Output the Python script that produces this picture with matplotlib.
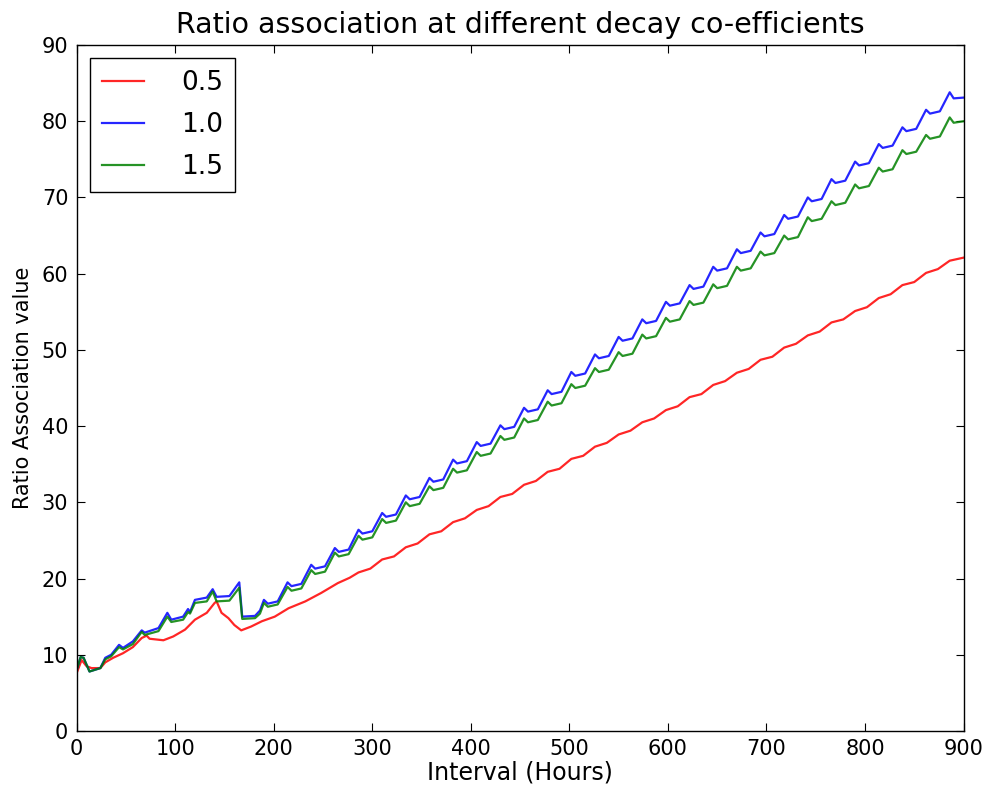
import numpy as np
import matplotlib
matplotlib.use('Agg')
import matplotlib.pyplot as plt

# values (hours vs ratio association value)

# blue / green share the same sample hours
hours_bg = [0, 4, 7, 13, 24, 29, 35, 43, 47, 57, 66, 69, 83, 92, 96, 108, 113, 115, 120, 132,
            138, 142, 155, 165, 168, 181, 186,
            190, 194, 204, 214, 218, 228, 238, 242, 252, 262, 266, 276,
            286, 290, 300, 310, 314, 324, 334, 338, 348, 358, 362, 372,
            382, 386, 396, 406, 410, 420, 430, 434, 444, 454, 458, 468,
            478, 482, 492, 502, 506, 516, 526, 530, 540, 550, 554, 564,
            574, 578, 588, 598, 602, 612, 622, 626, 636, 646, 650, 660,
            670, 674, 684, 694, 698, 708, 718, 722, 732, 742, 746, 756,
            766, 770, 780, 790, 794, 804, 814, 818, 828, 838, 842, 852,
            862, 866, 876, 886, 890, 900]

decay_10 = [8.0, 9.7, 9.6, 7.8, 8.25, 9.6, 10.0, 11.3, 10.9, 11.75, 13.2, 12.9, 13.5, 15.5, 14.6, 15.0, 16.0, 15.6, 17.2, 17.5,
            18.6, 17.6, 17.7, 19.5, 15.0, 15.1, 15.8,
            17.2, 16.7, 17.0, 19.5, 19.0, 19.3, 21.8, 21.3, 21.6, 24.0, 23.5, 23.8,
            26.4, 25.9, 26.2, 28.6, 28.1, 28.4, 30.9, 30.4, 30.7, 33.2, 32.7, 33.0,
            35.6, 35.1, 35.4, 37.9, 37.4, 37.7, 40.1, 39.6, 39.9, 42.4, 41.9, 42.2,
            44.7, 44.2, 44.5, 47.1, 46.6, 46.9, 49.4, 48.9, 49.2, 51.7, 51.2, 51.5,
            54.0, 53.5, 53.8, 56.3, 55.8, 56.1, 58.5, 58.0, 58.3, 60.9, 60.4, 60.7,
            63.2, 62.7, 63.0, 65.4, 64.9, 65.2, 67.7, 67.2, 67.5, 70.0, 69.5, 69.8,
            72.4, 71.9, 72.2, 74.7, 74.2, 74.5, 77.0, 76.5, 76.8, 79.2, 78.7, 79.0,
            81.5, 81.0, 81.3, 83.8, 83.0, 83.1]

decay_15 = [8.0, 9.7, 9.6, 7.8, 8.25, 9.4, 9.8, 11.0, 10.7, 11.4, 13.0, 12.6, 13.1, 15.0, 14.3, 14.6, 15.6, 15.4, 16.8, 17.0,
            18.3, 17.0, 17.1, 18.8, 14.7, 14.8, 15.4,
            16.8, 16.3, 16.6, 18.9, 18.4, 18.7, 21.1, 20.6, 20.9, 23.4, 22.9, 23.2,
            25.6, 25.1, 25.4, 27.8, 27.3, 27.6, 30.0, 29.5, 29.8, 32.1, 31.6, 31.9,
            34.4, 33.9, 34.2, 36.6, 36.1, 36.4, 38.7, 38.2, 38.5, 41.0, 40.5, 40.8,
            43.2, 42.7, 43.0, 45.5, 45.0, 45.3, 47.6, 47.1, 47.4, 49.7, 49.2, 49.5,
            52.0, 51.5, 51.8, 54.2, 53.7, 54.0, 56.4, 55.9, 56.2, 58.6, 58.1, 58.4,
            60.9, 60.4, 60.7, 62.9, 62.4, 62.7, 65.0, 64.5, 64.8, 67.4, 66.9, 67.2,
            69.5, 69.0, 69.3, 71.7, 71.2, 71.5, 73.9, 73.4, 73.7, 76.2, 75.7, 76.0,
            78.2, 77.7, 78.0, 80.5, 79.8, 80.0]

hours_r = [0, 5, 10, 15, 24, 29, 37, 47, 57, 66, 71, 74, 88, 98, 110, 120, 132, 140, 142, 147,
           154, 160, 167, 177, 188, 201, 215, 232, 248, 265, 277,
           286, 298, 310, 322, 334, 346, 358, 370, 382, 394, 406, 418, 430, 442,
           454, 466, 478, 490, 502, 514, 526, 538, 550, 562, 574, 586, 598, 610,
           622, 634, 646, 658, 670, 682, 694, 706, 718, 730, 742, 754, 766, 778,
           790, 802, 814, 826, 838, 850, 862, 874, 886, 900]

decay_05 = [7.6, 9.3, 8.5, 8.25, 8.25, 9.0, 9.6, 10.2, 11.0, 12.2, 12.5, 12.1, 11.9, 12.4, 13.3, 14.6, 15.5, 16.8, 17.0, 15.5,
            14.8, 13.9, 13.2, 13.7, 14.4, 15.0, 16.1, 17.0, 18.1, 19.4, 20.1,
            20.8, 21.3, 22.5, 22.9, 24.1, 24.6, 25.8, 26.2, 27.4, 27.9, 29.0, 29.5, 30.7, 31.1,
            32.3, 32.8, 34.0, 34.4, 35.7, 36.1, 37.3, 37.8, 38.9, 39.4, 40.5, 41.0, 42.1, 42.6,
            43.8, 44.2, 45.4, 45.9, 47.0, 47.5, 48.7, 49.1, 50.3, 50.8, 51.9, 52.4, 53.6, 54.0,
            55.1, 55.6, 56.8, 57.3, 58.5, 58.9, 60.1, 60.6, 61.7, 62.1]

fig = plt.figure(figsize=(9.87, 7.87), dpi=100)
ax = fig.add_axes([0.0777, 0.0712, 0.8985, 0.8716])

ax.plot(hours_r, decay_05, color='red', lw=1.6, alpha=0.85, label='0.5')
ax.plot(hours_bg, decay_10, color='blue', lw=1.6, alpha=0.85, label='1.0')
ax.plot(hours_bg, decay_15, color='green', lw=1.6, alpha=0.85, label='1.5')

ax.set_xlim(0, 900)
ax.set_ylim(0, 90)
ax.set_xticks(np.arange(0, 901, 100))
ax.set_yticks(np.arange(0, 91, 10))
ax.tick_params(direction='in', top=True, right=True, length=6, labelsize=15, pad=6)
for s in ax.spines.values():
    s.set_linewidth(1.0)

ax.set_title('Ratio association at different decay co-efficients', fontsize=20.5, pad=9)
ax.set_xlabel('Interval (Hours)', fontsize=17, labelpad=1)
ax.set_ylabel('Ratio Association value', fontsize=15, labelpad=6)

leg = ax.legend(loc='upper left', fontsize=19, fancybox=False, framealpha=1,
                edgecolor='black', handlelength=1.6, handletextpad=1.4,
                labelspacing=0.6, borderpad=0.45, borderaxespad=0.5)
leg.get_frame().set_linewidth(1.0)

fig.savefig('out.png', dpi=100)
